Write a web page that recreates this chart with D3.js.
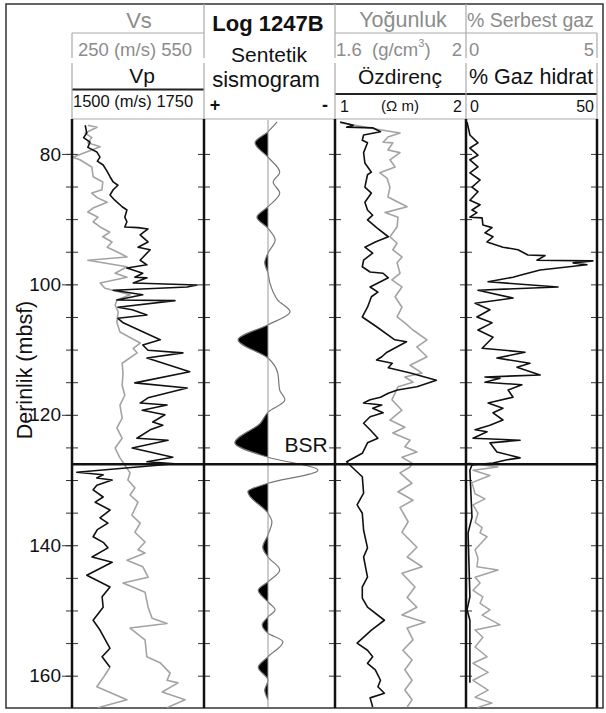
<!DOCTYPE html>
<html>
<head>
<meta charset="utf-8">
<title>Log 1247B</title>
<script src="https://cdn.jsdelivr.net/npm/d3@7"></script>
<style>
  body { margin: 0; background: #fff; }
  text { font-family: "Liberation Sans", Arial, sans-serif; }
</style>
</head>
<body>
<div id="grafico"></div>
<script>
// Derinlik eksenleri
const depthLabels = [80, 100, 120, 140, 160];
const depthTicks = d3.range(80, 161, 5);
const bsrDepth = 127.6;

// Vp (m/s) - siyah
const vpData = [
  [75.6,1525],[76.8,1528],[77.5,1522],[78.2,1534],[79.0,1530],[79.7,1547],[80.5,1553],[81.1,1548],[81.7,1559],
  [82.6,1566],[83.5,1572],[84.3,1578],[84.8,1587],[85.5,1578],[86.3,1572],[87.1,1581],[88.1,1595],[88.6,1604],
  [89.7,1600],[90.4,1604],[91.2,1600],[91.3,1625],[91.5,1644],[92.4,1629],[93.5,1644],[94.3,1625],[94.7,1648],
  [96.3,1629],[97.0,1642],[97.5,1604],[98.3,1634],[98.9,1619],[99.0,1642],[99.8,1616],[100.1,1737],[100.4,1718],
  [100.9,1578],[101.6,1634],[102.4,1585],[102.5,1695],[103.5,1587],[103.9,1614],[104.7,1642],[105.2,1587],
  [105.9,1597],[108.5,1667],[109.3,1634],[110.1,1644],[110.5,1710],[111.3,1642],[113.4,1723],[115.1,1619],
  [115.9,1718],[117.4,1644],[118.2,1629],[118.5,1680],[119.3,1633],[120.0,1676],[121.1,1653],[121.6,1672],
  [122.3,1648],[123.6,1623],[123.9,1682],[125.1,1614],[126.5,1691],[127.2,1642],[127.5,1695],[128.8,1509],
  [129.2,1559],[129.7,1547],[130.0,1576],[130.8,1547],[131.5,1540],[132.6,1559],[133.4,1544],[134.6,1572],
  [135.8,1553],[136.6,1568],[137.6,1548],[138.7,1540],[139.6,1560],[140.4,1568],[141.8,1538],[142.6,1576],
  [144.6,1528],[146.4,1572],[147.9,1557],[149.5,1559],[151.5,1540],[153.0,1553],[155.8,1572],[157.1,1557],
  [158.7,1572]
];
const vpTail = [[158.7,1572],[160.2,1560],[161.7,1547],[163.7,1604],[164.9,1549]];

// Vs (m/s) - gri
const vsData = [
  [75.6,286],[75.9,307],[76.8,280],[77.5,295],[78.3,286],[78.9,314],[79.8,280],[80.5,252],[80.9,268],[82.0,295],
  [83.5,298],[84.3,320],[85.5,318],[86.0,295],[86.7,307],[87.4,330],[88.3,298],[88.9,286],[89.7,309],[90.4,298],
  [91.2,314],[92.0,336],[92.7,320],[93.5,341],[94.3,330],[95.0,352],[95.8,375],[96.3,286],[97.3,375],[98.3,348],
  [98.9,375],[99.8,314],[100.6,325],[100.9,343],[101.6,382],[102.4,352],[103.2,348],[104.2,355],[105.8,352],
  [107.3,359],[109.0,405],[109.8,389],[110.5,398],[112.1,364],[113.6,366],[115.5,364],[117.0,370],[118.5,359],
  [120.5,364],[122.0,352],[123.6,364],[125.1,348],[126.6,359],[127.7,370],[128.9,382],[130.0,377],[131.2,393],
  [132.3,382],[133.4,400],[135.4,386],[136.6,405],[138.0,393],[139.5,416],[140.7,400],[141.2,416],[142.3,375],
  [143.3,411],[144.9,423],[145.8,366],[147.2,416],[149.5,423],[151.2,432],[152.0,466],[152.7,382],[154.5,416],
  [157.1,420],[158.0,450],[159.6,473],[160.7,466],[161.1,491],[162.5,455],[163.7,507],[164.9,466]
];

// Sentetik sismogram genliği (+ sola)
const seisData = [
  [75.1,-0.14],[76.6,0],[78.3,0.20],[80.5,0],[82.8,-0.18],[84.3,-0.08],[86.0,-0.18],[88.1,0],[89.7,0.17],[91.4,0],
  [93.2,-0.11],[95.2,0],[96.7,0.05],[98.3,0],[99.8,-0.03],[102.4,-0.15],[104.2,-0.34],[106.2,0],[108.5,0.46],
  [111.3,0],[113.6,-0.15],[116.2,-0.18],[117.7,-0.26],[119.6,0],[121.3,0.12],[124.3,0.51],[126.5,0],[128.5,-0.77],
  [130.5,0],[131.8,0.31],[135.1,0],[136.4,-0.06],[138.4,0],[140.3,0.08],[141.8,0],[143.8,-0.18],[145.6,0],
  [146.9,0.15],[148.7,0],[149.9,-0.11],[151.0,0],[152.2,0.09],[153.5,0],[154.8,-0.23],[157.1,0],[158.7,0.15],
  [160.7,0],[162.2,0.05],[163.7,0]
];

// Özdirenç (ohm m) - siyah
const resData = [
  [75.1,1.04],[75.6,1.14],[75.9,1.09],[76.0,1.29],[76.6,1.35],[77.1,1.22],[77.9,1.21],[78.3,1.25],[79.8,1.22],
  [81.4,1.23],[82.8,1.28],[83.2,1.25],[85.1,1.23],[86.0,1.28],[87.4,1.23],[88.6,1.25],[89.4,1.29],[90.1,1.25],
  [91.3,1.32],[92.7,1.41],[93.5,1.31],[94.3,1.23],[95.2,1.29],[96.3,1.22],[97.3,1.21],[98.1,1.27],[98.3,1.37],
  [99.0,1.41],[100.4,1.27],[101.2,1.33],[101.9,1.28],[103.5,1.25],[105.0,1.21],[106.5,1.32],[108.5,1.46],
  [108.8,1.55],[110.4,1.40],[111.1,1.36],[111.6,1.32],[112.1,1.44],[112.8,1.41],[113.6,1.58],[114.7,1.78],
  [115.7,1.63],[116.2,1.48],[116.7,1.41],[117.3,1.35],[117.7,1.27],[118.2,1.22],[118.5,1.36],[119.0,1.29],
  [119.7,1.37],[120.3,1.27],[121.3,1.22],[122.3,1.27],[123.6,1.33],[124.3,1.25],[125.9,1.21],[127.2,1.09],
  [128.0,1.13],[129.5,1.21],[132.0,1.22],[133.8,1.17],[135.1,1.21],[137.7,1.22],[140.4,1.25],[141.8,1.22],
  [144.9,1.25],[146.4,1.21],[148.1,1.21],[149.5,1.25],[151.5,1.38],[153.0,1.28],[155.0,1.17],[156.1,1.25],
  [157.1,1.29],[158.1,1.25],[159.1,1.31],[160.7,1.35],[161.7,1.33],[162.7,1.38],[163.4,1.27],[164.8,1.29]
];

// Yoğunluk (g/cm3) - gri
const denData = [
  [75.2,1.615],[76.3,1.738],[76.8,1.800],[77.4,1.763],[78.2,1.748],[78.3,1.778],[79.4,1.763],[79.8,1.800],
  [80.9,1.769],[82.0,1.785],[82.9,1.738],[83.7,1.760],[85.1,1.769],[86.6,1.763],[88.1,1.822],[89.0,1.754],
  [89.7,1.794],[91.2,1.791],[92.7,1.769],[93.7,1.791],[94.7,1.778],[95.8,1.806],[96.7,1.791],[98.3,1.800],
  [99.3,1.775],[100.4,1.806],[101.9,1.785],[103.5,1.806],[105.0,1.791],[105.9,1.815],[107.0,1.840],[108.5,1.883],
  [109.6,1.852],[111.1,1.883],[112.4,1.831],[113.6,1.868],[114.2,1.815],[115.0,1.840],[115.7,1.794],[117.7,1.775],
  [119.3,1.806],[120.8,1.769],[121.9,1.815],[122.8,1.778],[123.9,1.831],[124.9,1.815],[125.7,1.852],[126.5,1.806],
  [127.4,1.837],[128.0,1.831],[128.9,1.800],[130.5,1.837],[131.8,1.794],[133.1,1.840],[134.2,1.800],[136.4,1.825],
  [138.0,1.806],[140.3,1.852],[141.8,1.822],[143.3,1.868],[144.3,1.806],[146.4,1.846],[148.0,1.822],[149.5,1.852],
  [150.7,1.806],[151.8,1.877],[152.7,1.822],[154.5,1.840],[156.1,1.809],[157.6,1.837],[159.1,1.815],[160.7,1.837],
  [162.2,1.815],[163.7,1.837],[164.8,1.822]
];

// Gaz hidrat (%) - siyah
const hydData = [
  [75.1,0.4],[77.1,1.5],[78.3,4.6],[79.1,1.5],[80.2,4.6],[80.9,1.5],[82.0,4.6],[82.9,1.5],[84.0,5.4],[85.1,2.3],
  [85.8,4.6],[87.1,1.5],[87.8,5.4],[88.6,2.3],[89.0,4.2],[89.7,1.5],[89.8,6.2],[90.9,6.5],[91.3,10.0],[92.1,7.3],
  [92.7,10.4],[93.5,8.1],[94.3,14.2],[94.7,20.0],[95.5,23.8],[95.6,30.4],[96.3,27.3],[96.4,48.8],[96.7,41.2],
  [97.0,46.5],[97.8,28.5],[98.6,20.8],[98.9,18.1],[99.6,8.5],[100.4,35.4],[100.9,4.6],[102.1,18.1],[102.9,3.5],
  [103.9,9.2],[105.0,4.2],[105.9,10.0],[107.0,4.6],[108.1,10.4],[109.8,6.2],[110.4,22.7],[111.3,11.9],[112.1,24.6],
  [112.7,19.6],[113.9,28.5],[114.2,7.3],[114.4,13.1],[115.0,7.3],[115.4,21.5],[116.2,16.2],[117.3,18.1],[118.2,8.5],
  [119.0,14.2],[119.7,10.4],[120.8,14.2],[121.6,9.2],[122.3,3.5],[122.6,8.1],[123.6,2.7],[123.9,20.8],[124.3,9.2],
  [125.7,11.9],[126.6,20.8],[126.9,15.8],[127.4,10.4],[127.7,2.3],[128.5,1.5],[135.7,2.3],[138.1,0.8],[147.9,1.5],
  [149.9,0.4],[151.5,1.5],[161.1,1.5]
];

// Serbest gaz (%) - gri
const gasData = [
  [127.4,0.08],[128.0,1.23],[128.5,0.27],[129.3,0.92],[130.4,0.23],[132.1,0.35],[132.9,0.73],[133.8,0.27],
  [135.1,0.46],[136.5,0.35],[137.3,0.62],[138.1,0.54],[138.7,0.81],[139.5,0.62],[140.7,0.35],[142.0,0.46],
  [143.3,0.42],[143.8,1.23],[144.9,0.35],[145.8,0.54],[146.9,0.27],[147.9,0.65],[148.9,0.54],[149.9,0.92],
  [150.7,0.62],[152.2,1.31],[153.0,0.35],[154.1,0.65],[155.6,0.35],[157.1,0.81],[158.1,0.27],[159.5,0.85],
  [160.7,0.27],[162.2,0.85],[163.3,0.35],[164.2,1.0],[164.9,0.42]
];

const W = 606, H = 713;
const trackEdges = [72, 204, 335, 466, 597];
const grey = '#8c8c8c', curveGrey = '#a3a3a3', black = '#111';

const svg = d3.select('#grafico').append('svg')
  .attr('width', W).attr('height', H);

// Ölçekler
const y = d3.scaleLinear().domain([74.8, 164.8]).range([120, 707]);
const xVp = d3.scaleLinear().domain([1500, 1750]).range([72, 204]);
const xVs = d3.scaleLinear().domain([250, 550]).range([72, 204]);
const xSeis = d3.scaleLinear().domain([1, -1]).range([203, 333]);
const xRes = d3.scaleLinear().domain([1, 2]).range([335, 465]);
const xDen = d3.scaleLinear().domain([1.6, 2]).range([335, 465]);
const xHyd = d3.scaleLinear().domain([0, 50]).range([466, 596]);
const xGas = d3.scaleLinear().domain([0, 5]).range([466, 596]);

// Çerçeve
svg.append('rect').attr('x', 6).attr('y', 4).attr('width', 597).attr('height', 704)
  .attr('fill', 'none').attr('stroke', '#333').attr('stroke-width', 1.5);

// Başlık çizgileri
const hl = (x1, x2, yy, c, w) => svg.append('line').attr('x1', x1).attr('x2', x2)
  .attr('y1', yy).attr('y2', yy).attr('stroke', c).attr('stroke-width', w);
const vl = (xx, y1, y2, c, w) => svg.append('line').attr('x1', xx).attr('x2', xx)
  .attr('y1', y1).attr('y2', y2).attr('stroke', c).attr('stroke-width', w);

hl(72, 204, 33, '#aaa', 1.2);
hl(335, 597, 33, '#aaa', 1.2);
hl(72, 204, 89.5, '#222', 2);
hl(335, 597, 94, '#222', 2);
hl(72, 597, 119, '#aaa', 1.2);
[204, 335, 466].forEach(xx => { vl(xx, 4, 58, '#aaa', 1.2); vl(xx, 63, 119, '#aaa', 1.2); });
[72, 597].forEach(xx => { vl(xx, 33, 58, '#aaa', 1.2); vl(xx, 63, 119, '#aaa', 1.2); });

// Başlık yazıları
const txt = (s, x, yy, size, opts = {}) => svg.append('text')
  .attr('x', x).attr('y', yy).attr('font-size', size)
  .attr('text-anchor', opts.anchor || 'middle')
  .attr('font-weight', opts.bold ? 'bold' : null)
  .attr('fill', opts.fill || black).text(s);

txt('Vs', 139, 28, 22, { fill: grey });
txt('250 (m/s) 550', 135, 56, 18.5, { fill: grey });
txt('Vp', 142, 83, 21);
txt('1500 (m/s) 1750', 73, 107, 16.5, { anchor: 'start' });

txt('Log 1247B', 268, 31, 22, { bold: true });
txt('Sentetik', 269, 62, 21);
txt('sismogram', 266, 87, 22);
txt('+', 215, 111, 18, { bold: true });
txt('-', 325, 111, 18, { bold: true });

txt('Yoğunluk', 403, 27, 21.5, { fill: grey });
txt('1.6', 336, 56, 18.5, { anchor: 'start', fill: grey });
const gcm = txt('(g/cm', 372, 56, 18.5, { anchor: 'start', fill: grey });
gcm.append('tspan').attr('dy', -9).attr('font-size', 11).text('3');
gcm.append('tspan').attr('dy', 9).text(')');
txt('2', 462, 56, 18.5, { anchor: 'end', fill: grey });
txt('Özdirenç', 400, 84, 21);
txt('1', 340, 112, 16, { anchor: 'start' });
txt('(\u03A9 m)', 400, 111, 15);
txt('2', 462, 112, 16, { anchor: 'end' });

txt('% Serbest gaz', 467, 27, 19.5, { anchor: 'start', fill: grey });
txt('0', 469, 56, 18.5, { anchor: 'start', fill: grey });
txt('5', 594, 56, 18.5, { anchor: 'end', fill: grey });
txt('% Gaz hidrat', 469, 84, 21.5, { anchor: 'start' });
txt('0', 470, 112, 16, { anchor: 'start' });
txt('50', 594, 112, 16, { anchor: 'end' });

// Derinlik ekseni
const depthAxis = svg.append('g').attr('transform', 'translate(72,0)')
  .call(d3.axisLeft(y).tickValues(depthLabels).tickSize(10).tickPadding(1));
depthAxis.select('.domain').remove();
depthAxis.selectAll('text').attr('font-size', 19).attr('fill', black)
  .style('font-family', '"Liberation Sans", Arial, sans-serif');
depthAxis.selectAll('line').attr('stroke', '#333');

svg.append('text')
  .attr('transform', 'translate(32,370) rotate(-90)')
  .attr('text-anchor', 'middle').attr('font-size', 21.5).attr('fill', black)
  .text('Derinlik (mbsf)');

// İz kenarlarındaki tikler
trackEdges.forEach(xx => {
  [d3.axisLeft(y), d3.axisRight(y)].forEach(ax => {
    const g = svg.append('g').attr('transform', `translate(${xx},0)`)
      .call(ax.tickValues(depthTicks).tickSize(6).tickFormat(''));
    g.select('.domain').remove();
    g.selectAll('line').attr('stroke', '#333').attr('stroke-width', 1);
  });
});

// Eğriler
const clip = svg.append('clipPath').attr('id', 'plot');
clip.append('rect').attr('x', 72).attr('y', 120).attr('width', 525).attr('height', 588);
const plot = svg.append('g').attr('clip-path', 'url(#plot)');

const curve = (data, xs, color, w) => plot.append('path').datum(data)
  .attr('fill', 'none').attr('stroke', color).attr('stroke-width', w)
  .attr('stroke-linejoin', 'round')
  .attr('d', d3.line().x(d => xs(d[1])).y(d => y(d[0])));

curve(vsData, xVs, curveGrey, 1.6);
curve(vpTail, xVp, curveGrey, 1.6);
curve(vpData, xVp, black, 1.6);
curve(denData, xDen, curveGrey, 1.6);
curve(resData, xRes, black, 1.6);
curve(gasData, xGas, curveGrey, 1.5);
curve(hydData, xHyd, black, 1.6);

// Sismogram
const c0 = xSeis(0);
vl(c0, 120, 707, '#999', 1);
const seisClip = svg.append('clipPath').attr('id', 'seisPos');
seisClip.append('rect').attr('x', 204).attr('y', 120).attr('width', c0 - 204).attr('height', 588);
plot.append('path').datum(seisData)
  .attr('clip-path', 'url(#seisPos)')
  .attr('fill', '#000')
  .attr('d', d3.area().curve(d3.curveMonotoneY)
    .y(d => y(d[0])).x0(c0).x1(d => xSeis(d[1])));
plot.append('path').datum(seisData)
  .attr('fill', 'none').attr('stroke', '#777').attr('stroke-width', 1.2)
  .attr('d', d3.line().curve(d3.curveMonotoneY)
    .y(d => y(d[0])).x(d => xSeis(d[1])));

// İz sınırları ve BSR
trackEdges.forEach(xx => vl(xx, 119, 708, '#111', 2.5));
hl(72, 597, y(bsrDepth), '#111', 2.5);
txt('BSR', 306, 452, 21);
</script>
</body>
</html>
